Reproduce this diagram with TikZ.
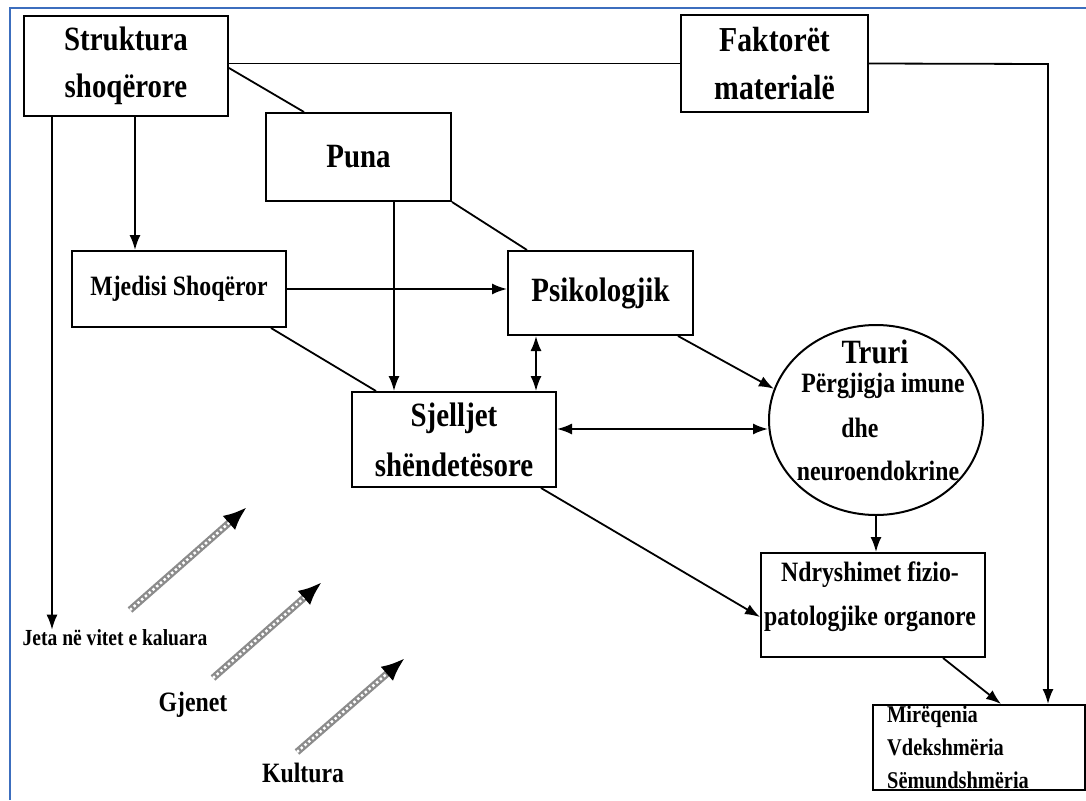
\documentclass[tikz,border=0pt]{standalone}
\usepackage{fontspec}
\setmainfont[FakeStretch=0.85]{Liberation Serif}
\usetikzlibrary{arrows.meta,shapes.geometric,calc}
\definecolor{framecol}{RGB}{60,110,190}
\definecolor{chain}{RGB}{140,140,140}
\begin{document}
\begin{tikzpicture}[x=1pt,y=-1pt,
  box/.style={draw,line width=2pt,fill=white,rectangle,inner sep=0pt,align=center,font=\bfseries\fontsize{34}{47}\selectfont},
  lbl/.style={inner sep=0pt,align=center,font=\bfseries\fontsize{28}{44}\selectfont},
  conn/.style={line width=1.8pt},
  arr/.style={conn,-{Latex[length=15pt,width=11pt]}},
  darr/.style={conn,{Latex[length=15pt,width=11pt]}-{Latex[length=15pt,width=11pt]}},
  grayarrow/.style={line width=7pt,draw=chain,-{Latex[length=24pt,width=19pt,black]}},
  grayover/.style={line width=2.5pt,draw=white,dash pattern=on 2.5pt off 2.5pt,shorten >=24pt}
]
\useasboundingbox (0,0) rectangle (1086,800);
\fill[white] (0,0) rectangle (1086,800);
\draw[line width=2pt,framecol] (10,800) -- (10,8) -- (1086,8);

% boxes
\node[box,minimum width=204pt,minimum height=100pt] (struk) at (126,66) {Struktura\\shoqërore};
\node[box,minimum width=187pt,minimum height=97pt,font=\bfseries\fontsize{35}{48}\selectfont] (fakt) at (774.5,63.5) {Faktorët\\materialë};
\node[box,minimum width=185pt,minimum height=88pt] (puna) at (358.5,157) {Puna};
\node[box,minimum width=214pt,minimum height=76pt,font=\bfseries\fontsize{28}{34}\selectfont] (mjed) at (179,289) {Mjedisi Shoqëror};
\node[box,minimum width=185pt,minimum height=84pt] (psik) at (600.5,293) {Psikologjik};
\node[box,minimum width=204pt,minimum height=95pt,font=\bfseries\fontsize{34}{50}\selectfont] (sjell) at (454,439.5) {Sjelljet\\shëndetësore};
\node[draw,ellipse,line width=2pt,fill=white,minimum width=214pt,minimum height=190pt] (truri) at (876,420) {};
\node[lbl,anchor=base,font=\bfseries\fontsize{34}{40}\selectfont] (trurit) at (875,363) {Truri};
\node[lbl,anchor=base] (imune) at (883,392) {Përgjigja imune};
\node[lbl,anchor=base] (dhe) at (860,437) {dhe};
\node[lbl,anchor=base] (neuro) at (878,480) {neuroendokrine};
\node[box,minimum width=224pt,minimum height=104pt] (ndry) at (873,605) {};
\node[lbl] (ndryt) at (870,597) {Ndryshimet fizio-\\patologjike organore};
\node[box,minimum width=212pt,minimum height=85pt] (mire) at (979,747.5) {};
\node[lbl,anchor=north west,align=left,font=\bfseries\fontsize{24}{33}\selectfont] (miret) at (887,706) {Mirëqenia\\Vdekshmëria\\Sëmundshmëria};

% free labels
\node[lbl,font=\bfseries\fontsize{23}{28}\selectfont] (jeta) at (115,638) {Jeta në vitet e kaluara};
\node[lbl] (gjenet) at (193,705) {Gjenet};
\node[lbl] (kultura) at (303,773) {Kultura};

% connectors
\draw[conn] (struk.east |- fakt.west) -- (fakt.west);
\coordinate (fr) at (1048,64);
\draw[arr] (fakt.east) -- (fr) -- (fr |- mire.north);
\draw[conn] ($(struk.east)+(0,2)$) -- ($(puna.north west)+(39,0)$);
\coordinate (sj) at ($(struk.south west)+(29,0)$);
\draw[arr] (sj) -- (sj |- jeta.north);
\coordinate (sm) at ($(struk.south west)+(112,0)$);
\draw[arr] (sm) -- (sm |- mjed.north);
\coordinate (ps) at ($(puna.south west)+(129,0)$);
\draw[arr] (ps) -- (ps |- sjell.north);
\draw[conn] (puna.south east) -- ($(psik.north west)+(20,0)$);
\draw[arr] (mjed.east) -- (mjed.east -| psik.west);
\draw[conn] ($(mjed.south east)+(-16,0)$) -- ($(sjell.north west)+(25,0)$);
\coordinate (pb) at ($(psik.south west)+(29,0)$);
\draw[darr] (pb) -- (pb |- sjell.north);
\draw[arr] ($(psik.south east)+(-16,0)$) -- (truri.163);
\coordinate (se) at ($(sjell.east)+(0,-10.5)$);
\draw[darr] (se) -- (se -| truri.west);
\draw[arr] (truri.south) -- (truri.south |- ndry.north);
\draw[arr] ($(sjell.south east)+(-16,0)$) -- ($(ndry.west)+(0,12)$);
\draw[arr] ($(ndry.south east)+(-43,0)$) -- ($(mire.north west)+(129,0)$);

% gray influence arrows
\coordinate (g1s) at (130,610); \coordinate (g1e) at (247,507);
\coordinate (g2s) at (213,678); \coordinate (g2e) at (322,582);
\coordinate (g3s) at (297,752); \coordinate (g3e) at (405,658);
\foreach \a/\b in {g1s/g1e,g2s/g2e,g3s/g3e}{
  \draw[grayarrow] (\a) -- (\b);
  \draw[grayover] (\a) -- (\b);
}
\end{tikzpicture}
\end{document}
